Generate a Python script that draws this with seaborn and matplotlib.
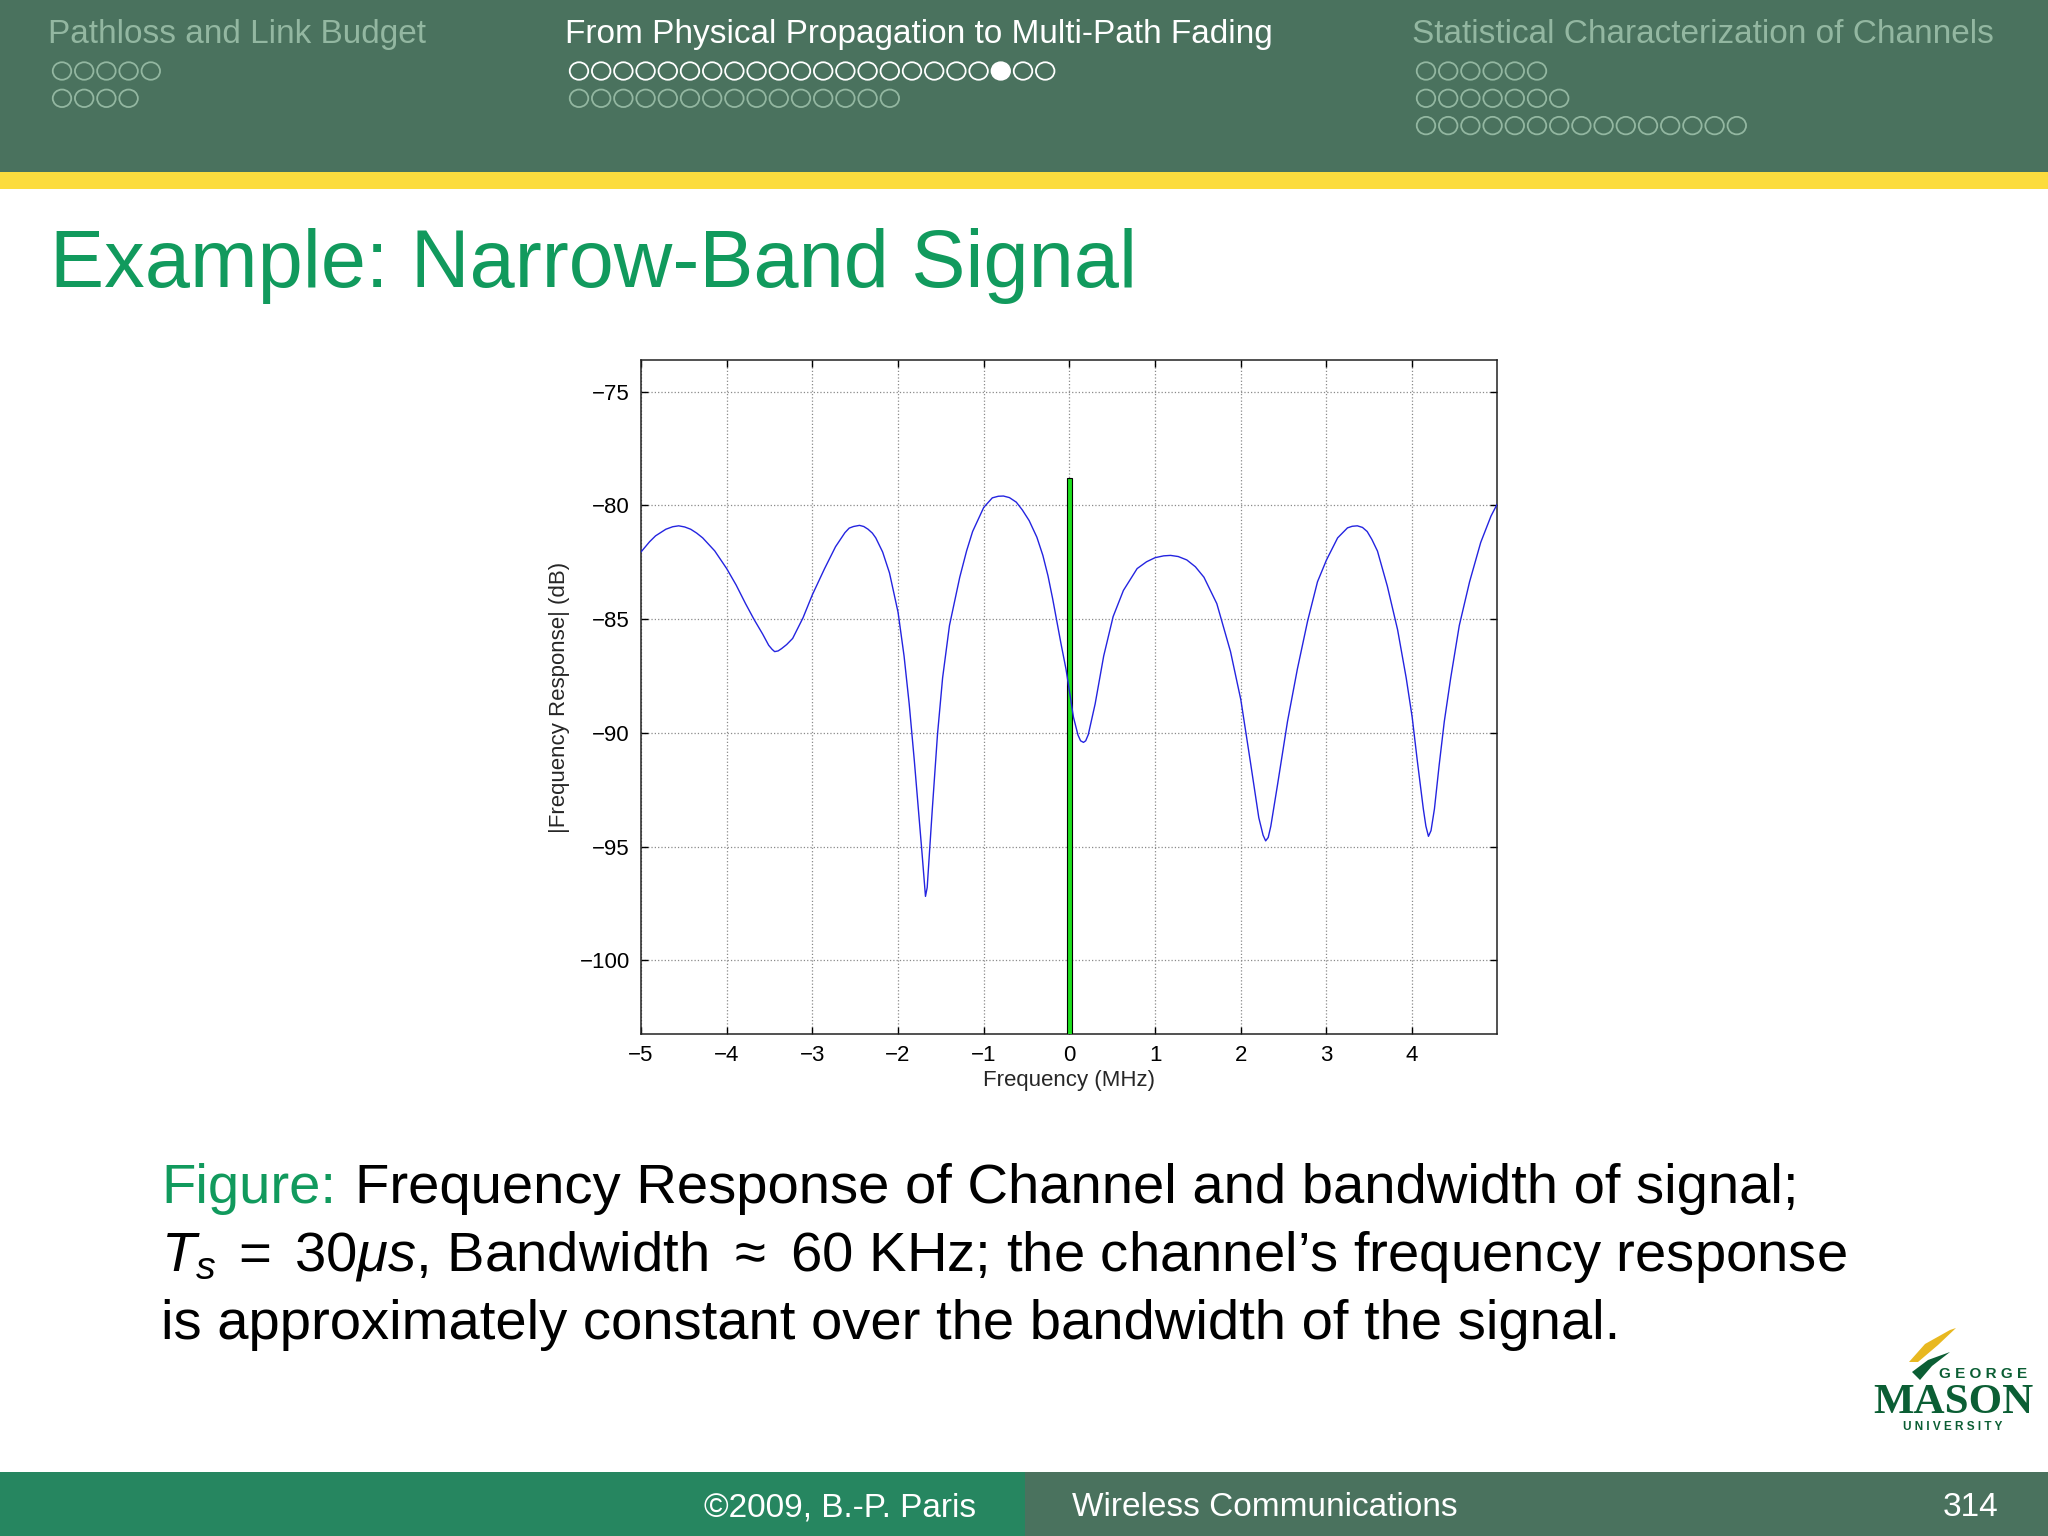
import matplotlib
matplotlib.use("Agg")
import matplotlib.pyplot as plt
import seaborn as sns
from matplotlib.patches import Rectangle, Ellipse, Polygon

# Dane (charakterystyka kanału)
freq_mhz = [-5.00, -4.90, -4.83, -4.71, -4.63, -4.56, -4.49, -4.42, -4.35, -4.28,
            -4.14, -4.00, -3.89, -3.78, -3.68, -3.58, -3.51, -3.47, -3.44, -3.40,
            -3.36, -3.30, -3.23, -3.11, -3.00, -2.86, -2.73, -2.62, -2.57, -2.52,
            -2.45, -2.40, -2.35, -2.30, -2.26, -2.18, -2.10, -2.00, -1.93, -1.87,
            -1.81, -1.75, -1.72, -1.70, -1.68, -1.66, -1.65, -1.60, -1.54, -1.48,
            -1.40, -1.28, -1.20, -1.13, -1.00, -0.90, -0.83, -0.77, -0.70, -0.62,
            -0.55, -0.47, -0.38, -0.31, -0.25, -0.195, -0.10, -0.04, 0.047, 0.10,
            0.13, 0.164, 0.19, 0.22, 0.30, 0.40, 0.51, 0.63, 0.79, 0.90,
            1.00, 1.10, 1.18, 1.27, 1.37, 1.47, 1.57, 1.72, 1.88, 2.00,
            2.11, 2.21, 2.26, 2.29, 2.32, 2.35, 2.43, 2.545, 2.66, 2.78,
            2.895, 3.00, 3.13, 3.245, 3.30, 3.36, 3.42, 3.475, 3.53, 3.595,
            3.71, 3.83, 3.93, 4.00, 4.06, 4.13, 4.16, 4.19, 4.22, 4.26,
            4.315, 4.375, 4.45, 4.55, 4.67, 4.80, 4.92, 4.99]
response_db = [-82.05, -81.60, -81.34, -81.05, -80.94, -80.90, -80.95, -81.05, -81.22, -81.43,
               -82.00, -82.78, -83.50, -84.32, -85.02, -85.66, -86.15, -86.33, -86.43, -86.40,
               -86.30, -86.12, -85.85, -84.95, -83.93, -82.80, -81.82, -81.20, -81.00, -80.93,
               -80.88, -80.93, -81.05, -81.22, -81.43, -82.05, -82.97, -84.70, -86.62, -88.73,
               -91.23, -93.92, -95.30, -96.23, -97.19, -96.80, -96.23, -93.34, -90.08, -87.58,
               -85.28, -83.16, -82.00, -81.15, -80.09, -79.67, -79.60, -79.59, -79.66, -79.86,
               -80.20, -80.67, -81.40, -82.20, -83.10, -84.12, -86.05, -87.20, -89.31, -90.10,
               -90.35, -90.42, -90.35, -90.08, -88.73, -86.62, -84.89, -83.74, -82.78, -82.48,
               -82.30, -82.22, -82.20, -82.25, -82.40, -82.70, -83.16, -84.32, -86.43, -88.54,
               -91.23, -93.73, -94.50, -94.75, -94.60, -94.11, -92.25, -89.50, -87.20, -85.08,
               -83.36, -82.40, -81.43, -80.99, -80.92, -80.90, -80.97, -81.15, -81.50, -82.01,
               -83.55, -85.47, -87.58, -89.31, -91.23, -93.34, -94.10, -94.55, -94.30, -93.34,
               -91.42, -89.50, -87.58, -85.28, -83.36, -81.63, -80.47, -79.96]

# Pasmo sygnału (ok. 60 kHz)
signal_band = [-0.03, 0.03]
signal_top = -78.8

x_ticks = [-5, -4, -3, -2, -1, 0, 1, 2, 3, 4]
y_ticks = [-100, -95, -90, -85, -80, -75]
x_range = [-5, 4.99]
y_range = [-103.24, -73.61]

# Teksty slajdu
section_names = ["Pathloss and Link Budget",
                 "From Physical Propagation to Multi-Path Fading",
                 "Statistical Characterization of Channels"]
nav_dots = [[5, 4], [22, 15], [6, 7, 15]]
slide_title = "Example: Narrow-Band Signal"
caption_lines = ["Frequency Response of Channel and bandwidth of signal;",
                 r"$T_s\;=\;30\mu s$, Bandwidth $\approx$ 60 KHz; the channel’s frequency response",
                 "is approximately constant over the bandwidth of the signal."]

# Kolory
header_col = "#4a725e"
faded_col = "#93b7a1"
yellow_col = "#fcdc3e"
green_col = "#119a5d"
footer_left = "#268660"

sns.set_theme(style="ticks")
plt.rcParams['font.family'] = ['Liberation Sans', 'DejaVu Sans']
plt.rcParams['mathtext.fontset'] = 'custom'
plt.rcParams['mathtext.rm'] = 'Liberation Sans'
plt.rcParams['mathtext.it'] = 'Liberation Sans:italic'

fig = plt.figure(figsize=(20.48, 15.36), dpi=100)
fig.patch.set_facecolor("white")

# Tło slajdu w pikselach
bg = fig.add_axes([0, 0, 1, 1])
bg.set_xlim(0, 2048)
bg.set_ylim(1536, 0)
bg.axis('off')

bg.add_patch(Rectangle((0, 0), 2048, 172, color=header_col, lw=0))
bg.add_patch(Rectangle((0, 172), 2048, 17, color=yellow_col, lw=0))
bg.add_patch(Rectangle((0, 1472), 1025, 64, color=footer_left, lw=0))
bg.add_patch(Rectangle((1025, 1472), 1023, 64, color=header_col, lw=0))

# Nagłówek z sekcjami i kropkami nawigacji
sec_x = [48, 565, 1412]
dot_x = [52, 569, 1416]
for i, name in enumerate(section_names):
    col = "white" if i == 1 else faded_col
    bg.text(sec_x[i], 43, name, fontsize=24, color=col, va='baseline', ha='left')
    for r, n in enumerate(nav_dots[i]):
        for k in range(n):
            filled = (i == 1 and r == 0 and k == 19)
            dcol = "white" if (i == 1 and r == 0) else faded_col
            bg.add_patch(Ellipse((dot_x[i] + 10 + k * 22.2, 71 + r * 27.3), 18.5, 17.5,
                                 facecolor=dcol if filled else "none",
                                 edgecolor=dcol, lw=1.3))

# Tytuł
bg.text(50, 287, slide_title, fontsize=58.4, color=green_col, va='baseline', ha='left')

# Podpis rysunku
bg.text(161, 1203, "Figure:", fontsize=40.5, color=green_col, va='baseline', ha='left')
bg.text(355, 1203, caption_lines[0], fontsize=40.5, color="black", va='baseline', ha='left')
bg.text(161, 1271, caption_lines[1], fontsize=40.5, color="black", va='baseline', ha='left')
bg.text(161, 1339, caption_lines[2], fontsize=40.5, color="black", va='baseline', ha='left')

# Stopka
bg.text(976, 1508, "©2009, B.-P. Paris", fontsize=24, color="white", va='center', ha='right')
bg.text(1072, 1508, "Wireless Communications", fontsize=24, color="white", va='center', ha='left')
bg.text(1998, 1508, "314", fontsize=24, color="white", va='center', ha='right')

# Logo GMU (uproszczone)
gmu_green = "#0b5e34"
bg.add_patch(Polygon([[1909, 1362], [1925, 1344], [1950, 1330], [1956, 1328],
                      [1938, 1345], [1918, 1362]], closed=True, color="#e8b820", lw=0))
bg.add_patch(Polygon([[1912, 1372], [1928, 1360], [1950, 1352], [1932, 1366],
                      [1920, 1380]], closed=True, color=gmu_green, lw=0))
bg.text(1983, 1374, "G E O R G E", fontsize=11, fontweight='bold', color=gmu_green,
        ha='center', va='center', family='Liberation Sans')
bg.text(1953, 1413, "MASON", fontsize=31, fontweight='bold', color=gmu_green,
        ha='center', va='baseline', family='Liberation Serif')
bg.text(1953, 1427, "U N I V E R S I T Y", fontsize=8.5, fontweight='bold', color=gmu_green,
        ha='center', va='center', family='Liberation Sans')

# Wykres
ax = fig.add_axes([641 / 2048, 1 - 1034 / 1536, 856 / 2048, 674 / 1536])
ax.set_facecolor("white")

ax.bar((signal_band[0] + signal_band[1]) / 2, signal_top - (y_range[0] - 5),
       width=signal_band[1] - signal_band[0], bottom=y_range[0] - 5,
       color="#1ee01e", edgecolor="black", linewidth=0.8, zorder=3)
sns.lineplot(x=freq_mhz, y=response_db, ax=ax, color="#2424e0", linewidth=1.0,
             sort=False, zorder=4)

ax.set_xlim(x_range)
ax.set_ylim(y_range)
ax.set_xticks(x_ticks)
ax.set_yticks(y_ticks)
ax.grid(True, linestyle=':', color='#8a8a8a', linewidth=0.9)
ax.set_axisbelow(True)
ax.tick_params(direction='in', length=5, width=1, top=True, right=True,
               labelsize=16, pad=8, colors='black')
for s in ax.spines.values():
    s.set_color('#222222')
    s.set_linewidth(1.1)
    s.set_visible(True)

ax.set_xlabel("Frequency (MHz)", fontsize=16, labelpad=3)
ax.set_ylabel("|Frequency Response| (dB)", fontsize=16, labelpad=7)

fig.savefig("out.png", dpi=100)
